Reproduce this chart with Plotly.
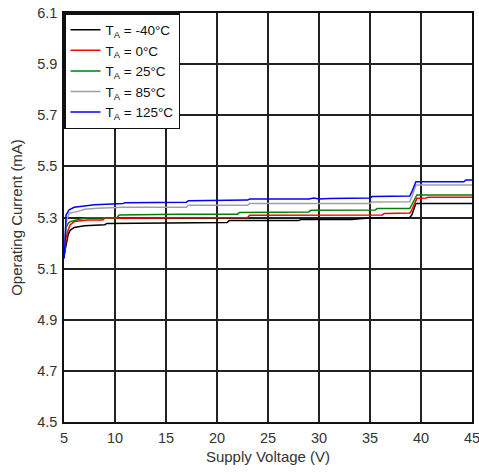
import plotly.graph_objects as go

# Supply voltage (V) and operating current (mA) per ambient temperature
v_m40 = [5.0, 5.2, 5.4, 5.6, 6.0, 7.0, 9.0, 9.2, 17.0, 21.0, 21.2, 28.0, 28.2, 33.2, 34.0, 35.0, 38.9, 39.1, 39.5, 45.0]
i_m40 = [5.15, 5.20, 5.232, 5.25, 5.261, 5.268, 5.272, 5.277, 5.28, 5.28, 5.288, 5.288, 5.292, 5.292, 5.295, 5.298, 5.30, 5.31, 5.355, 5.355]

v_0 = [5.0, 5.2, 5.4, 5.6, 6.0, 7.3, 8.8, 9.0, 16.5, 23.0, 23.2, 36.2, 36.4, 38.9, 39.1, 39.6, 40.5, 40.7, 45.0]
i_0 = [5.14, 5.22, 5.25, 5.271, 5.284, 5.29, 5.29, 5.297, 5.299, 5.30, 5.309, 5.31, 5.316, 5.318, 5.33, 5.375, 5.376, 5.379, 5.379]

v_25 = [5.0, 5.2, 5.4, 5.6, 6.5, 7.2, 10.2, 10.4, 16.0, 22.0, 22.2, 29.0, 29.2, 35.5, 35.7, 38.9, 39.1, 39.6, 45.0]
i_25 = [5.15, 5.26, 5.277, 5.284, 5.293, 5.299, 5.299, 5.31, 5.313, 5.313, 5.32, 5.322, 5.328, 5.329, 5.335, 5.335, 5.35, 5.388, 5.388]

v_85 = [5.0, 5.2, 5.5, 6.3, 7.0, 8.3, 10.8, 17.0, 17.2, 23.0, 23.2, 35.0, 35.2, 38.9, 39.1, 39.5, 45.0]
i_85 = [5.15, 5.28, 5.317, 5.323, 5.332, 5.336, 5.34, 5.34, 5.348, 5.348, 5.355, 5.355, 5.361, 5.362, 5.38, 5.427, 5.427]

v_125 = [5.0, 5.1, 5.2, 5.5, 6.0, 7.0, 8.0, 10.8, 11.0, 17.0, 17.2, 23.0, 23.2, 29.0, 29.5, 30.0, 31.0, 35.0, 35.2, 38.9, 39.1, 39.5, 44.2, 44.4, 45.0]
i_125 = [5.14, 5.20, 5.31, 5.33, 5.34, 5.345, 5.35, 5.355, 5.358, 5.36, 5.366, 5.368, 5.372, 5.372, 5.376, 5.372, 5.374, 5.376, 5.382, 5.384, 5.40, 5.44, 5.44, 5.447, 5.447]

names = ["T<sub>A</sub> = -40°C", "T<sub>A</sub> = 0°C", "T<sub>A</sub> = 25°C",
         "T<sub>A</sub> = 85°C", "T<sub>A</sub> = 125°C"]
colors = ["#000000", "#ff0000", "#008000", "#a0a0a0", "#0000ff"]
series = [(v_m40, i_m40), (v_0, i_0), (v_25, i_25), (v_85, i_85), (v_125, i_125)]

x_ticks = [5, 10, 15, 20, 25, 30, 35, 40, 45]
y_ticks = [4.5, 4.7, 4.9, 5.1, 5.3, 5.5, 5.7, 5.9, 6.1]

FONT = "Liberation Sans, Arial"

fig = go.Figure()
for (vx, iy), name, col in zip(series, names, colors):
    fig.add_trace(go.Scatter(x=vx, y=iy, mode="lines", name=name,
                             line=dict(color=col, width=1.5)))

axis_common = dict(showline=True, mirror=True, linecolor="#111", linewidth=1.5,
                   showgrid=True, gridcolor="#222", gridwidth=1.5, zeroline=False,
                   ticks="outside", ticklen=2, tickcolor="rgba(0,0,0,0)",
                   automargin=False, ticklabeloverflow="allow",
                   tickfont=dict(family=FONT, size=14.5, color="#333"),
                   title_font=dict(family=FONT, size=15, color="#333"))

fig.update_xaxes(range=[5, 45], tickvals=x_ticks, ticktext=[str(t) for t in x_ticks],
                 title_text="Supply Voltage (V)", title_standoff=6, **axis_common)
fig.update_yaxes(range=[4.5, 6.1], tickvals=y_ticks, ticktext=[f"{t:.1f}" for t in y_ticks],
                 title_text="Operating Current (mA)", title_standoff=11, **axis_common)

fig.update_layout(
    width=479, height=474,
    margin=dict(l=64, r=7, t=13, b=52),
    plot_bgcolor="white", paper_bgcolor="white",
    legend=dict(x=0, y=1, xanchor="left", yanchor="top",
                bgcolor="white", bordercolor="#111", borderwidth=1.5,
                font=dict(family=FONT, size=13.5, color="#111"),
                tracegroupgap=0, itemwidth=30),
    showlegend=True,
)

fig.write_html("out.html", config={"displayModeBar": False},
               post_script="document.body.style.margin='0';")
